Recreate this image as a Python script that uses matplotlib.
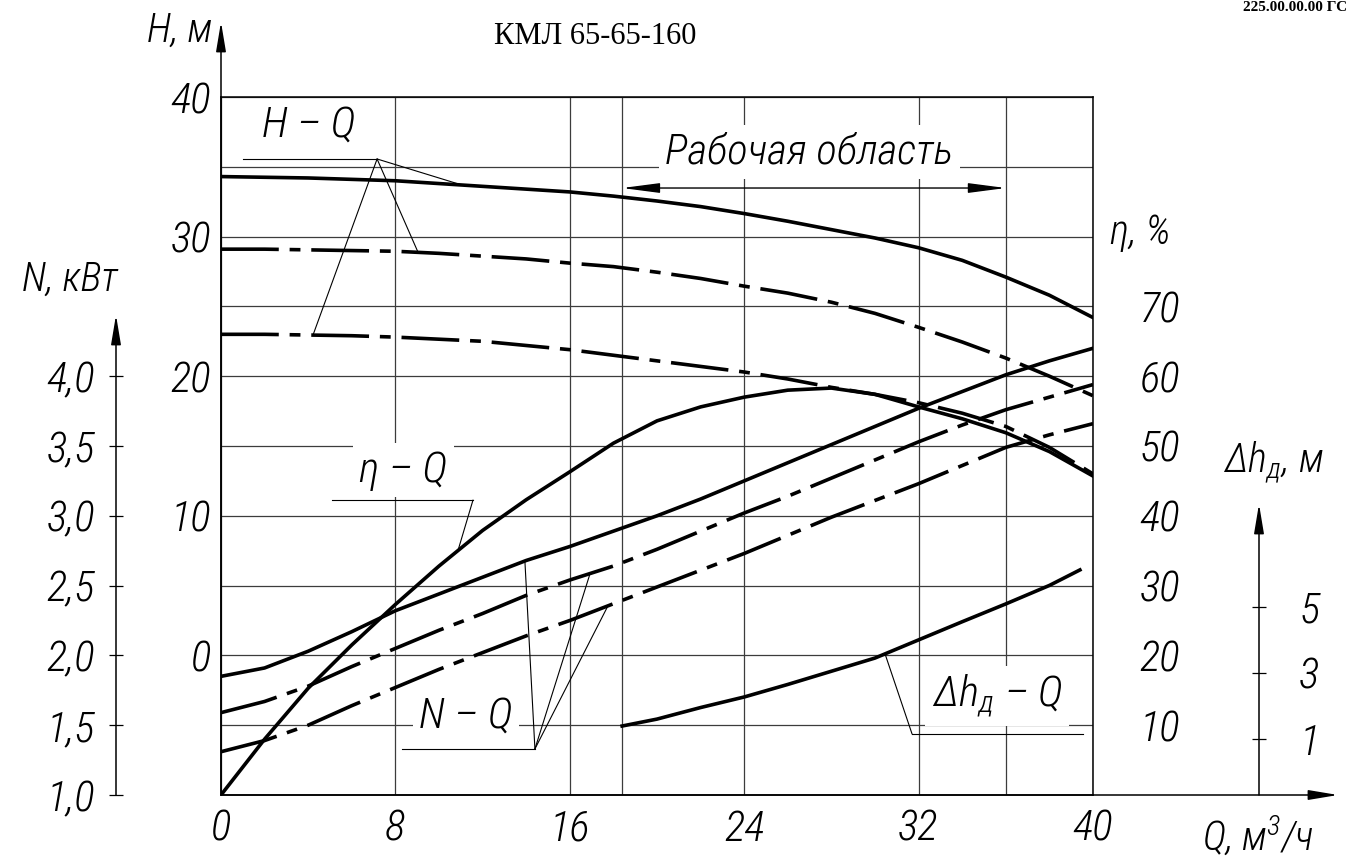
import numpy as np
import matplotlib
matplotlib.use('Agg')
import matplotlib.pyplot as plt
from matplotlib.patches import FancyArrowPatch

gost = 'Roboto Condensed'
plt.rcParams['font.family'] = [gost, 'DejaVu Sans']
plt.rcParams['font.style'] = 'italic'
plt.rcParams['font.weight'] = 300
plt.rcParams['mathtext.fontset'] = 'custom'
plt.rcParams['mathtext.rm'] = gost + ':italic:light'
plt.rcParams['mathtext.it'] = gost + ':italic:light'

Q = np.array([0, 2, 4, 6, 8, 10, 12, 14, 16, 18, 20, 22, 24, 26, 28, 30, 32, 34, 36, 38, 40])
H_1 = np.array([34.3, 34.25, 34.2, 34.1, 34.0, 33.8, 33.6, 33.4, 33.2, 32.9, 32.55,
                32.15, 31.65, 31.1, 30.5, 29.9, 29.2, 28.3, 27.1, 25.8, 24.2])
H_2 = np.array([29.1, 29.1, 29.05, 29.0, 28.95, 28.8, 28.6, 28.4, 28.1, 27.85, 27.45,
                27.0, 26.45, 25.95, 25.3, 24.5, 23.5, 22.45, 21.3, 20.0, 18.6])
H_3 = np.array([23.0, 23.0, 22.95, 22.9, 22.8, 22.65, 22.5, 22.2, 21.9, 21.5, 21.1,
                20.7, 20.3, 19.8, 19.2, 18.7, 18.1, 17.35, 16.4, 14.9, 13.0])
eta = np.array([0, 8.0, 15.3, 21.5, 27.3, 32.8, 37.9, 42.3, 46.3, 50.4, 53.6,
                55.6, 57.0, 58.0, 58.3, 57.4, 55.6, 53.9, 51.9, 49.2, 45.7])
N_1 = np.array([1.85, 1.91, 2.03, 2.17, 2.32, 2.44, 2.56, 2.68, 2.78, 2.89, 3.0,
                3.12, 3.25, 3.38, 3.51, 3.64, 3.77, 3.89, 4.01, 4.11, 4.2])
N_2 = np.array([1.59, 1.67, 1.78, 1.92, 2.05, 2.18, 2.30, 2.43, 2.54, 2.64, 2.76,
                2.89, 3.02, 3.14, 3.27, 3.40, 3.53, 3.65, 3.76, 3.85, 3.94])
N_3 = np.array([1.31, 1.39, 1.50, 1.64, 1.77, 1.90, 2.02, 2.14, 2.25, 2.37, 2.49,
                2.61, 2.73, 2.86, 2.99, 3.11, 3.23, 3.36, 3.49, 3.58, 3.66])
Q_dh = np.array([18.4, 20, 22, 24, 26, 28, 30, 32, 34, 36, 38, 39.4])
dh = np.array([1.39, 1.6, 1.95, 2.27, 2.65, 3.05, 3.45, 4.0, 4.55, 5.09, 5.65, 6.12])
work_zone = [18.4, 36.0]

Q_ticks = [0, 8, 16, 24, 32, 40]
H_ticks = [0, 10, 20, 30, 40]
N_ticks = [1.0, 1.5, 2.0, 2.5, 3.0, 3.5, 4.0]
eta_ticks = [10, 20, 30, 40, 50, 60, 70]
dh_ticks = [1, 3, 5]

FS = 31
W, HT = 1349, 865
L, R, T, B = 221, 1093, 97, 795


def px(x, y):
    return (x / W, 1 - y / HT)


fig = plt.figure(figsize=(W / 100, HT / 100), dpi=100)
ax = fig.add_axes([L / W, 1 - B / HT, (R - L) / W, (B - T) / HT])
ax.set_xlim(0, 40)
ax.set_ylim(-10, 40)
ax.set_xticks(Q_ticks)
ax.set_xticks(work_zone, minor=True)
ax.set_yticks(H_ticks)
ax.set_yticks([-5, 5, 15, 25, 35], minor=True)
ax.grid(which='both', color='#3c3c3c', lw=0.9)
ax.tick_params(which='both', length=0, labelsize=FS)
ax.tick_params(axis='x', pad=10)
ax.tick_params(axis='y', pad=7)
for s in ax.spines.values():
    s.set_linewidth(1.1)

dashdot = (0, (16, 3, 3, 3))
lw = 2.6
ax.plot(Q, H_1, color='black', lw=lw, zorder=5)
ax.plot(Q, H_2, color='black', lw=lw, ls=dashdot, zorder=5)
ax.plot(Q, H_3, color='black', lw=lw, ls=dashdot, zorder=5)

# N axis (left, offset)
ax_n = ax.twinx()
ax_n.set_ylim(1, 6)
ax_n.yaxis.tick_left()
for s in ax_n.spines.values():
    s.set_visible(False)
ax_n.spines['left'].set_position(('axes', (116 - L) / (R - L)))
ax_n.set_yticks(N_ticks, [f'{v:.1f}'.replace('.', ',') for v in N_ticks])
ax_n.tick_params(axis='y', direction='inout', length=10, width=0.9, pad=10, labelsize=FS)
ax_n.plot(Q, N_1, color='black', lw=lw)
ax_n.plot(Q, N_2, color='black', lw=lw, ls=dashdot)
ax_n.plot(Q, N_3, color='black', lw=lw, ls=dashdot)

# efficiency axis (labels only)
ax_e = ax.twinx()
ax_e.set_ylim(0, 100)
for s in ax_e.spines.values():
    s.set_visible(False)
ax_e.set_yticks(eta_ticks)
ax_e.tick_params(axis='y', length=0, pad=48, labelsize=FS)
for t in ax_e.get_yticklabels():
    t.set_ha('center')
ax_e.plot(Q, eta, color='black', lw=lw)

# NPSH axis (right, offset)
ax_d = ax.twinx()
ax_d.set_ylim(-0.7, 20.45)
for s in ax_d.spines.values():
    s.set_visible(False)
ax_d.spines['right'].set_position(('axes', (1259 - L) / (R - L)))
ax_d.set_yticks(dh_ticks)
ax_d.tick_params(axis='y', direction='inout', length=10, width=0.9, pad=24, labelsize=FS)
ax_d.plot(Q_dh, dh, color='black', lw=lw)


def axis_arrow(p0, p1, hl=1.8):
    fig.add_artist(FancyArrowPatch(px(*p0), px(*p1), transform=fig.transFigure,
                                   arrowstyle=f'-|>,head_length={hl},head_width=0.3',
                                   mutation_scale=10, lw=1.1, color='black',
                                   shrinkA=0, shrinkB=0))


axis_arrow((L, B), (L, 22))
axis_arrow((L, B), (1338, B))
axis_arrow((116, B), (116, 315))
axis_arrow((1259, B), (1259, 504))

# axis names
fig.text(*px(180, 30), 'H, м', fontsize=29, ha='center', va='center')
fig.text(*px(70, 279), 'N, кВт', fontsize=29, ha='center', va='center')
fig.text(*px(1140, 232), 'η, %', fontsize=29, ha='center', va='center')
fig.text(*px(1273, 463), r'Δh$_д$, м', fontsize=29, ha='center', va='center')
fig.text(*px(1258, 835), r'Q, м$^3$/ч', fontsize=29, ha='center', va='center')

fig.text(*px(595, 37), 'КМЛ 65-65-160', family='Liberation Serif', style='normal',
         weight='normal', fontsize=22, ha='center', va='center')
fig.text(*px(1347, 1), '225.00.00.00 ГС', family='Liberation Serif', style='normal',
         weight='bold', fontsize=11, ha='right', va='top')

# curve labels with leaders
box = dict(boxstyle='square,pad=0.15', fc='white', ec='none')
thin = dict(color='black', lw=0.8, zorder=4)


def leader(apex, target_ax, qs, vals, q):
    ax.annotate('', xy=(q, np.interp(q, qs, vals)), xycoords=target_ax.transData,
                xytext=apex, textcoords=ax.transData,
                arrowprops=dict(arrowstyle='-', lw=0.8, color='black', shrinkA=0, shrinkB=0),
                zorder=4)


ax.text(4.04, 38.0, 'H – Q', fontsize=FS, ha='center', va='center', zorder=3)
ax.plot([1.0, 7.16], [35.56, 35.56], **thin)
leader((7.16, 35.56), ax, Q, H_1, 11.05)
leader((7.16, 35.56), ax, Q, H_2, 9.04)
leader((7.16, 35.56), ax, Q, H_3, 4.22)

ax.text(8.35, 13.28, 'η – Q', fontsize=FS, ha='center', va='center', bbox=box, zorder=3)
ax.plot([5.09, 11.56], [11.13, 11.13], **thin)
leader((11.56, 11.13), ax_e, Q, eta, 10.87)

ax.text(11.24, -4.34, 'N – Q', fontsize=FS, ha='center', va='center', bbox=box, zorder=3)
ax.plot([8.3, 14.4], [-6.7, -6.7], **thin)
leader((14.4, -6.7), ax_n, Q, N_1, 13.94)
leader((14.4, -6.7), ax_n, Q, N_2, 16.93)
leader((14.4, -6.7), ax_n, Q, N_3, 17.75)

ax.text(35.6, -2.9, r'Δh$_д$ – Q', fontsize=FS, ha='center', va='center', bbox=box, zorder=3)
ax.plot([31.7, 39.54], [-5.63, -5.63], **thin)
leader((31.7, -5.63), ax_d, Q_dh, dh, 30.46)

ax.text(27.0, 36.06, 'Рабочая область', fontsize=FS, ha='center', va='center', bbox=box, zorder=3)
ax.annotate('', xy=(work_zone[0], 33.48), xytext=(work_zone[1], 33.48),
            arrowprops=dict(arrowstyle='<|-|>,head_length=2.3,head_width=0.3', mutation_scale=10,
                            lw=1.0, color='black', shrinkA=0, shrinkB=0), zorder=4)

fig.savefig('out.png', dpi=100, facecolor='white')
